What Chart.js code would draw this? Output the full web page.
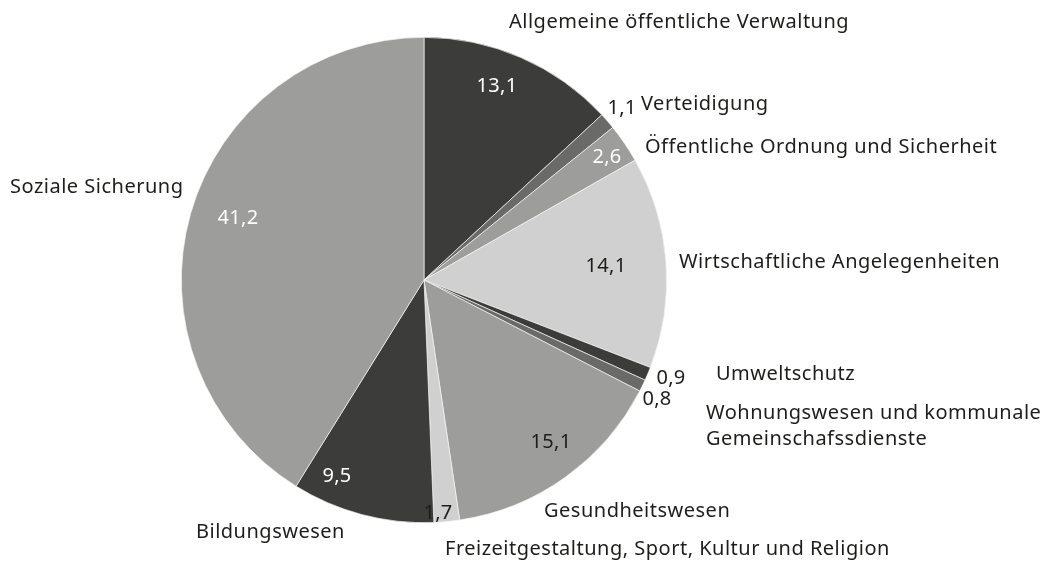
<!DOCTYPE html>
<html>
<head>
<meta charset="utf-8">
<script src="https://cdn.jsdelivr.net/npm/chart.js@4"></script>
<style>
	html, body { margin: 0; padding: 0; background: #fff; }
	#wrap { width: 1041px; height: 565px; position: relative; }
</style>
</head>
<body>
<div id="wrap"><canvas id="myChart" width="1041" height="565"></canvas></div>
<script>
// Ausgaben nach Aufgabenbereichen, Anteile in %
const categories = [
	'Allgemeine öffentliche Verwaltung',
	'Verteidigung',
	'Öffentliche Ordnung und Sicherheit',
	'Wirtschaftliche Angelegenheiten',
	'Umweltschutz',
	'Wohnungswesen und kommunale Gemeinschafssdienste',
	'Gesundheitswesen',
	'Freizeitgestaltung, Sport, Kultur und Religion',
	'Bildungswesen',
	'Soziale Sicherung'
];
const values = [13.1, 1.1, 2.6, 14.1, 0.9, 0.8, 15.1, 1.7, 9.5, 41.2];
const valueLabels = ['13,1', '1,1', '2,6', '14,1', '0,9', '0,8', '15,1', '1,7', '9,5', '41,2'];

const colors = ['#3c3c3b', '#6a6a69', '#9d9d9c', '#d0d0d0', '#3c3c3b', '#6a6a69', '#9d9d9c', '#d0d0d0', '#3c3c3b', '#9d9d9c'];
const valueColors = ['#fff', '#1d1d1b', '#fff', '#1d1d1b', '#1d1d1b', '#1d1d1b', '#1d1d1b', '#1d1d1b', '#fff', '#fff'];

// label placement (layout only)
const valuePos = [[497, 86], [622, 108], [607, 157], [606, 266], [671, 378], [657, 399], [551, 442], [438, 513], [337, 476], [238, 218]];
const namePos = [
	[509, [22]],
	[641, [104]],
	[645, [147]],
	[679, [262]],
	[716, [374]],
	[706, [413, 439]],
	[544, [511]],
	[445, [549]],
	[196, [532]],
	[10, [187]]
];
const nameLines = [
	['Allgemeine öffentliche Verwaltung'],
	['Verteidigung'],
	['Öffentliche Ordnung und Sicherheit'],
	['Wirtschaftliche Angelegenheiten'],
	['Umweltschutz'],
	['Wohnungswesen und kommunale', 'Gemeinschafssdienste'],
	['Gesundheitswesen'],
	['Freizeitgestaltung, Sport, Kultur und Religion'],
	['Bildungswesen'],
	['Soziale Sicherung']
];

const labelPlugin = {
	id: 'labels',
	afterDatasetsDraw(chart) {
		const ctx = chart.ctx;
		ctx.save();
		ctx.textBaseline = 'middle';
		ctx.font = '20px "Noto Sans"';
		ctx.letterSpacing = '0.5px';
		ctx.textAlign = 'left';
		ctx.fillStyle = '#1d1d1b';
		nameLines.forEach(function (lines, i) {
			lines.forEach(function (line, j) {
				ctx.fillText(line, namePos[i][0], namePos[i][1][j]);
			});
		});
		ctx.letterSpacing = '0.3px';
		ctx.textAlign = 'center';
		valueLabels.forEach(function (t, i) {
			ctx.fillStyle = valueColors[i];
			ctx.fillText(t, valuePos[i][0], valuePos[i][1]);
		});
		ctx.restore();
	}
};

window.myChart = new Chart(document.getElementById('myChart').getContext('2d'), {
	type: 'pie',
	data: {
		labels: categories,
		datasets: [{
			data: values,
			backgroundColor: colors,
			borderColor: '#f4f4f4',
			borderWidth: 0.7
		}]
	},
	options: {
		responsive: false,
		animation: false,
		layout: { padding: { left: 181, right: 374, top: 37, bottom: 42 } },
		plugins: {
			legend: { display: false },
			tooltip: { enabled: false }
		}
	},
	plugins: [labelPlugin]
});
</script>
</body>
</html>
